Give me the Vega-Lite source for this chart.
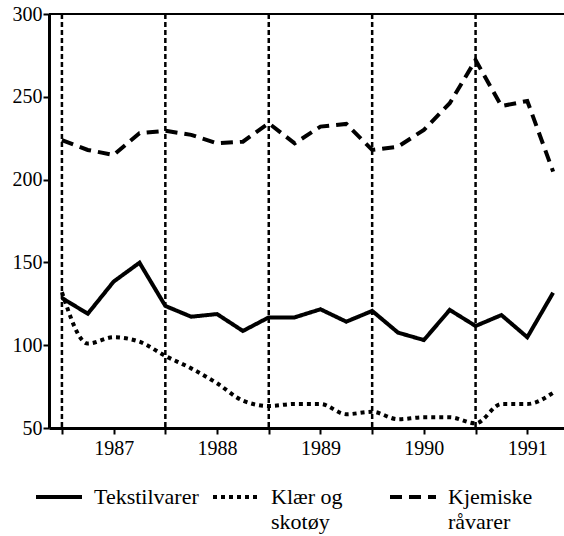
{
  "$schema": "https://vega.github.io/schema/vega-lite/v6.json",
  "autosize": {"type": "none"},
  "padding": {"left": 49, "top": 14, "right": 0, "bottom": 108},
  "width": 515,
  "height": 414,
  "background": "white",
  "config": {
    "view": {"stroke": null},
    "font": "Liberation Serif",
    "axis": {"labelFont": "Liberation Serif", "labelColor": "black", "domainColor": "black", "tickColor": "black", "grid": false, "title": null}
  },
  "datasets": {
    "series": [
      {"t": 1987.0, "s": "Tekstilvarer", "v": 128.5},
      {"t": 1987.25, "s": "Tekstilvarer", "v": 119},
      {"t": 1987.5, "s": "Tekstilvarer", "v": 138.4},
      {"t": 1987.75, "s": "Tekstilvarer", "v": 149.8},
      {"t": 1988.0, "s": "Tekstilvarer", "v": 123.7},
      {"t": 1988.25, "s": "Tekstilvarer", "v": 117.2},
      {"t": 1988.5, "s": "Tekstilvarer", "v": 118.8},
      {"t": 1988.75, "s": "Tekstilvarer", "v": 108.6},
      {"t": 1989.0, "s": "Tekstilvarer", "v": 116.8},
      {"t": 1989.25, "s": "Tekstilvarer", "v": 116.8},
      {"t": 1989.5, "s": "Tekstilvarer", "v": 121.7},
      {"t": 1989.75, "s": "Tekstilvarer", "v": 114.2},
      {"t": 1990.0, "s": "Tekstilvarer", "v": 120.7},
      {"t": 1990.25, "s": "Tekstilvarer", "v": 107.6},
      {"t": 1990.5, "s": "Tekstilvarer", "v": 103.1},
      {"t": 1990.75, "s": "Tekstilvarer", "v": 121.3},
      {"t": 1991.0, "s": "Tekstilvarer", "v": 111.6},
      {"t": 1991.25, "s": "Tekstilvarer", "v": 118.2},
      {"t": 1991.5, "s": "Tekstilvarer", "v": 104.8},
      {"t": 1991.75, "s": "Tekstilvarer", "v": 131.7},
      {"t": 1987.0, "s": "Klær og skotøy", "v": 132},
      {"t": 1987.25, "s": "Klær og skotøy", "v": 101},
      {"t": 1987.5, "s": "Klær og skotøy", "v": 104.8},
      {"t": 1987.75, "s": "Klær og skotøy", "v": 102.1},
      {"t": 1988.0, "s": "Klær og skotøy", "v": 93.5},
      {"t": 1988.25, "s": "Klær og skotøy", "v": 86},
      {"t": 1988.5, "s": "Klær og skotøy", "v": 77},
      {"t": 1988.75, "s": "Klær og skotøy", "v": 66.5},
      {"t": 1989.0, "s": "Klær og skotøy", "v": 63.3},
      {"t": 1989.25, "s": "Klær og skotøy", "v": 64.5},
      {"t": 1989.5, "s": "Klær og skotøy", "v": 64.5},
      {"t": 1989.75, "s": "Klær og skotøy", "v": 58.3},
      {"t": 1990.0, "s": "Klær og skotøy", "v": 59.8},
      {"t": 1990.25, "s": "Klær og skotøy", "v": 55.3},
      {"t": 1990.5, "s": "Klær og skotøy", "v": 56.5},
      {"t": 1990.75, "s": "Klær og skotøy", "v": 56.5},
      {"t": 1991.0, "s": "Klær og skotøy", "v": 52.8},
      {"t": 1991.25, "s": "Klær og skotøy", "v": 64.5},
      {"t": 1991.5, "s": "Klær og skotøy", "v": 64.5},
      {"t": 1991.75, "s": "Klær og skotøy", "v": 71.3},
      {"t": 1987.0, "s": "Kjemiske råvarer", "v": 223.9},
      {"t": 1987.25, "s": "Kjemiske råvarer", "v": 217.9},
      {"t": 1987.5, "s": "Kjemiske råvarer", "v": 214.9},
      {"t": 1987.75, "s": "Kjemiske råvarer", "v": 228},
      {"t": 1988.0, "s": "Kjemiske råvarer", "v": 229.5},
      {"t": 1988.25, "s": "Kjemiske råvarer", "v": 227},
      {"t": 1988.5, "s": "Kjemiske råvarer", "v": 221.9},
      {"t": 1988.75, "s": "Kjemiske råvarer", "v": 222.9},
      {"t": 1989.0, "s": "Kjemiske råvarer", "v": 234},
      {"t": 1989.25, "s": "Kjemiske råvarer", "v": 221.9},
      {"t": 1989.5, "s": "Kjemiske råvarer", "v": 232},
      {"t": 1989.75, "s": "Kjemiske råvarer", "v": 233.6},
      {"t": 1990.0, "s": "Kjemiske råvarer", "v": 217.9},
      {"t": 1990.25, "s": "Kjemiske råvarer", "v": 219.9},
      {"t": 1990.5, "s": "Kjemiske råvarer", "v": 230},
      {"t": 1990.75, "s": "Kjemiske råvarer", "v": 246.1},
      {"t": 1991.0, "s": "Kjemiske råvarer", "v": 272.2},
      {"t": 1991.25, "s": "Kjemiske råvarer", "v": 244.4},
      {"t": 1991.5, "s": "Kjemiske råvarer", "v": 247.5},
      {"t": 1991.75, "s": "Kjemiske råvarer", "v": 204.8}
    ],
    "years": [{"year": 1987}, {"year": 1988}, {"year": 1989}, {"year": 1990}, {"year": 1991}]
  },
  "layer": [
    {
      "data": {"name": "years"},
      "mark": {"type": "rule", "color": "black", "strokeWidth": 2.5, "strokeDash": [5, 3]},
      "encoding": {
        "x": {"field": "year", "type": "quantitative", "scale": {"domain": [1986.875, 1991.855], "nice": false, "zero": false}}
      }
    },
    {
      "data": {"values": [{}]},
      "mark": {"type": "rule", "color": "black", "strokeWidth": 2},
      "encoding": {"y": {"datum": 300, "type": "quantitative"}}
    },
    {
      "data": {"name": "series"},
      "transform": [{"filter": "datum.s != 'Klær og skotøy'"}],
      "mark": {"type": "line", "color": "black", "interpolate": "linear"},
      "encoding": {
        "x": {"field": "t", "type": "quantitative",
          "scale": {"domain": [1986.875, 1991.855], "nice": false, "zero": false},
          "axis": {
            "values": [1987, 1987.25, 1987.5, 1987.75, 1988, 1988.25, 1988.5, 1988.75, 1989, 1989.25, 1989.5, 1989.75, 1990, 1990.25, 1990.5, 1990.75, 1991, 1991.25, 1991.5, 1991.75],
            "labelExpr": "(datum.value*4)%4 == 2 ? floor(datum.value) : ''",
            "labelFlush": false, "labelOverlap": false, "labelFontSize": 20, "labelPadding": 4, "labelDx": 3,
            "domainWidth": 3, "tickWidth": 2, "tickSize": 6
          }},
        "y": {"field": "v", "type": "quantitative",
          "scale": {"domain": [50, 300], "nice": false, "zero": false},
          "axis": {"values": [50, 100, 150, 200, 250, 300], "labelFontSize": 20, "labelPadding": 1, "domainWidth": 3, "tickWidth": 2, "tickSize": 6}},
        "detail": {"field": "s"},
        "strokeDash": {"field": "s", "type": "nominal",
          "scale": {"domain": ["Tekstilvarer", "Klær og skotøy", "Kjemiske råvarer"], "range": [[1, 0], [4, 4], [12, 7]]},
          "legend": {
            "title": null, "orient": "none", "legendX": -15, "legendY": 458,
            "direction": "horizontal", "columns": 3, "gridAlign": "all", "columnPadding": 6,
            "symbolType": "stroke", "symbolSize": 2116, "symbolStrokeColor": "black",
            "labelFont": "Liberation Serif", "labelFontSize": 22, "labelColor": "black", "labelOffset": 10, "labelLimit": 220,
            "labelBaseline": "alphabetic",
            "labelExpr": "datum.label == 'Klær og skotøy' ? ['Klær og', 'skotøy'] : datum.label == 'Kjemiske råvarer' ? ['Kjemiske', 'råvarer'] : [datum.label, ' ']",
            "encode": {"labels": {"update": {"dy": {"value": 7}, "lineHeight": {"value": 25}}}}
          }},
        "strokeWidth": {"field": "s", "type": "nominal",
          "scale": {"domain": ["Tekstilvarer", "Klær og skotøy", "Kjemiske råvarer"], "range": [4, 4, 2.5]}}
      }
    },
    {
      "data": {"name": "series"},
      "transform": [{"filter": "datum.s == 'Klær og skotøy'"}],
      "mark": {"type": "line", "color": "black", "interpolate": "monotone"},
      "encoding": {
        "x": {"field": "t", "type": "quantitative"},
        "y": {"field": "v", "type": "quantitative"},
        "strokeDash": {"field": "s", "type": "nominal"},
        "strokeWidth": {"field": "s", "type": "nominal"}
      }
    }
  ]
}
